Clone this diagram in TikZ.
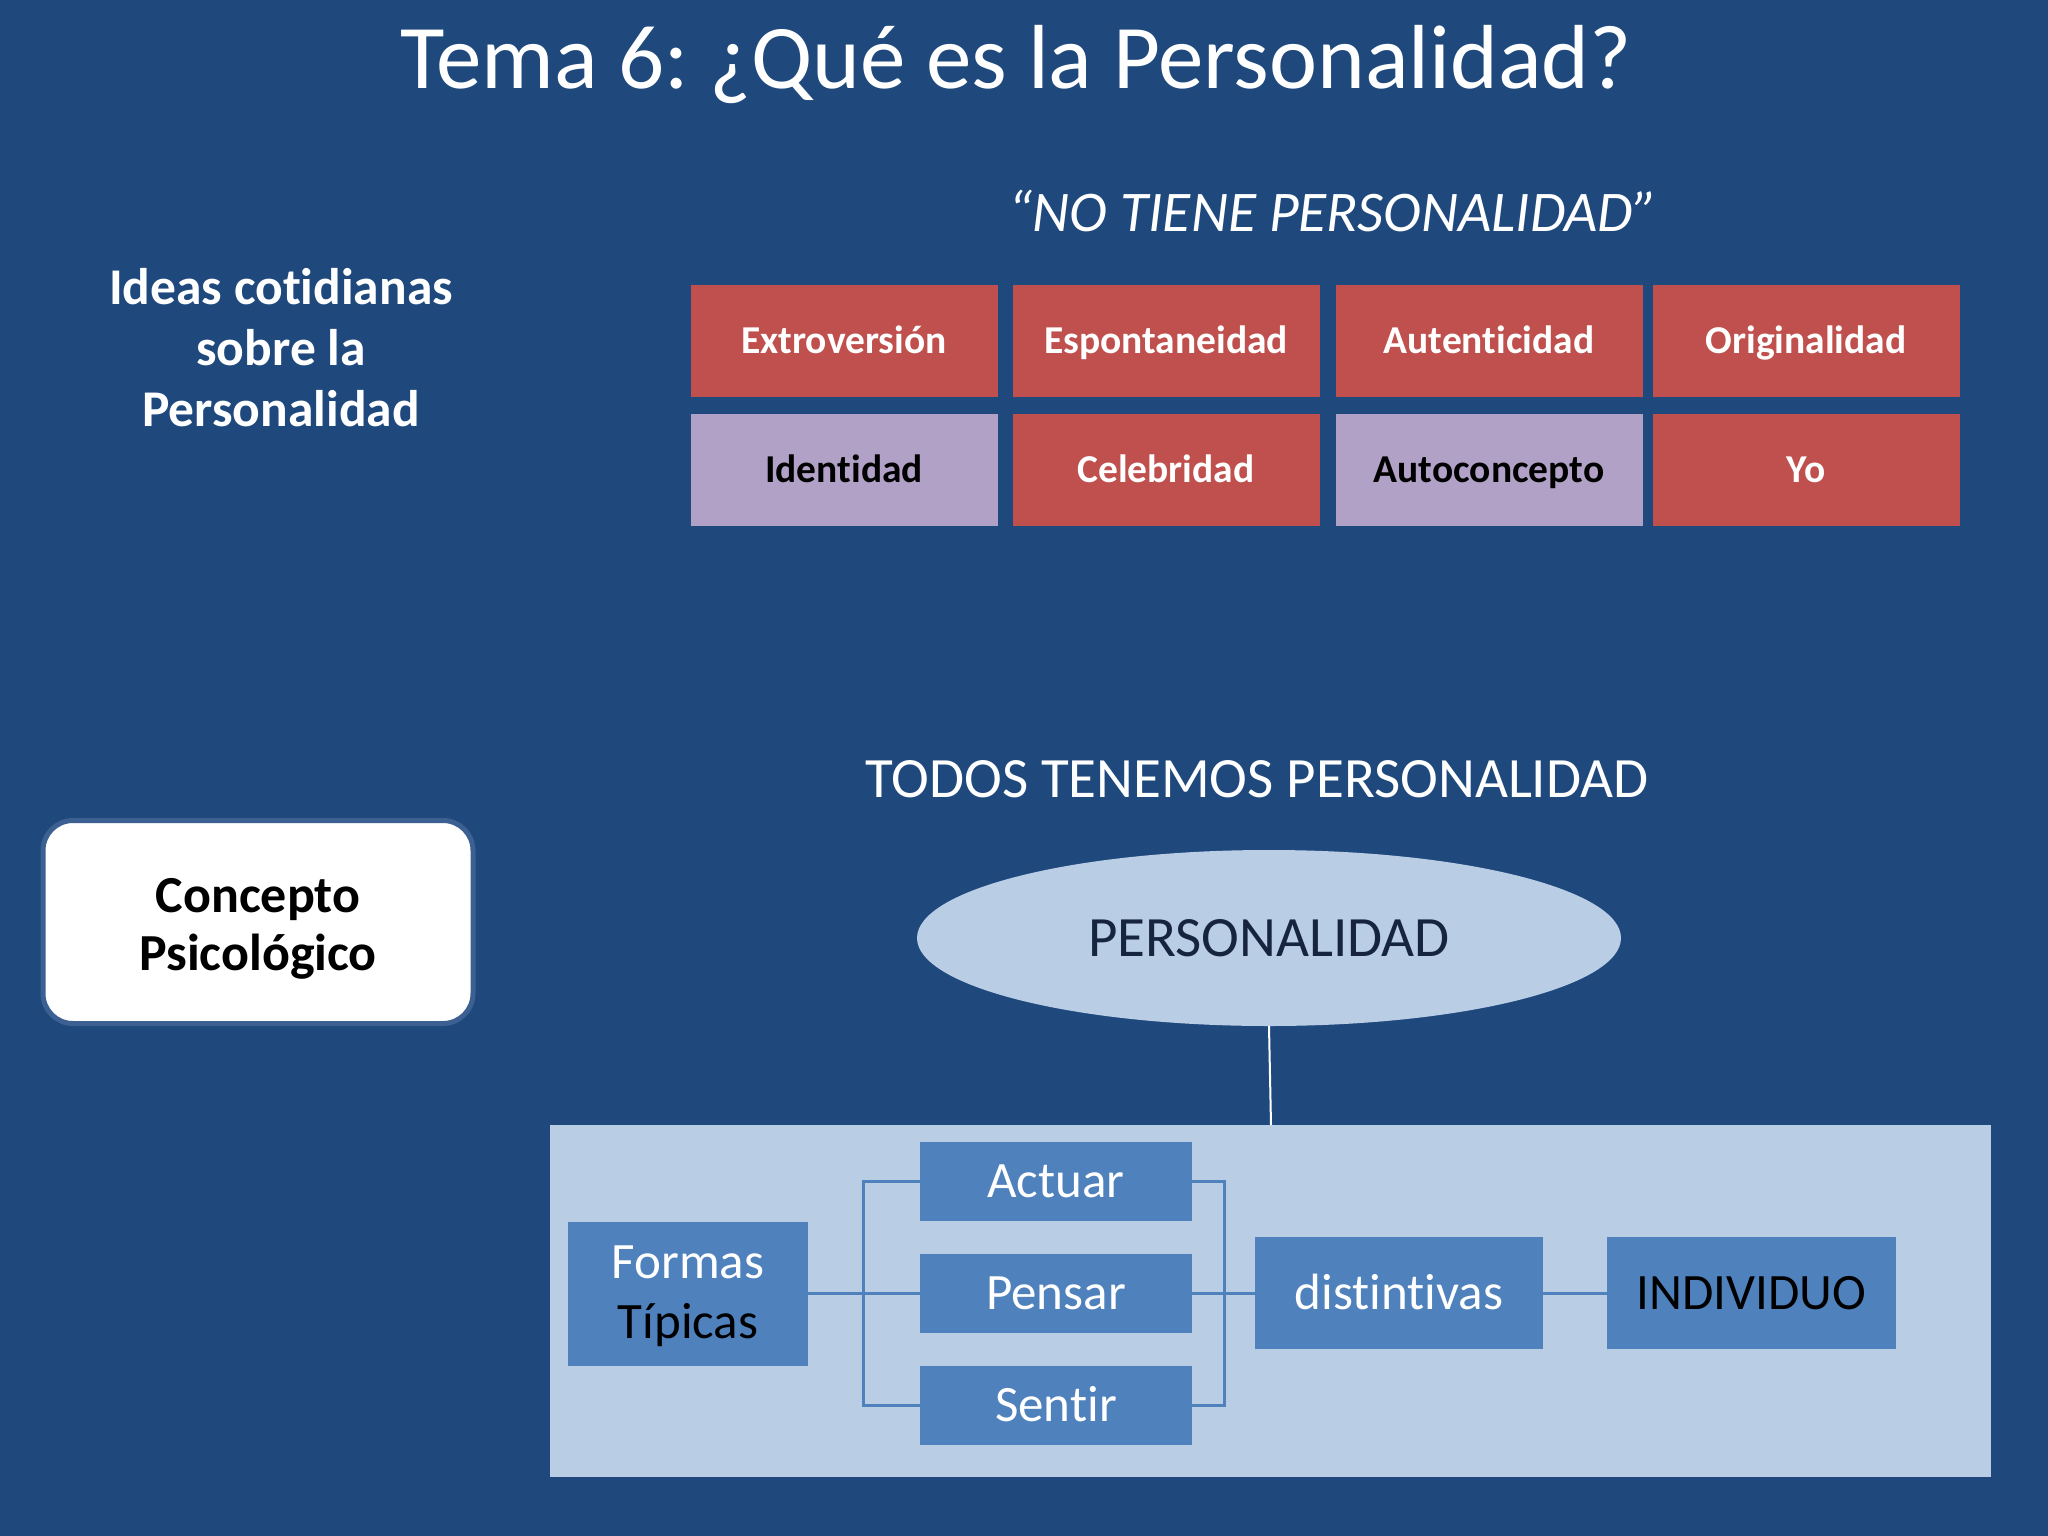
\documentclass[tikz,border=0pt]{standalone}
\usepackage{fontspec}
\setmainfont{Carlito}[RawFeature={-liga}]
\usetikzlibrary{shapes.geometric}
\frenchspacing
\definecolor{bg}{HTML}{1F497D}
\definecolor{red1}{HTML}{C0504D}
\definecolor{lav}{HTML}{B2A1C7}
\definecolor{lblue}{HTML}{B9CDE5}
\definecolor{mblue}{HTML}{4F81BD}
\definecolor{navy}{HTML}{17243F}
\definecolor{rim}{HTML}{3B6091}
\tikzset{
  gbox/.style={rectangle, minimum width=307pt, minimum height=112pt, inner sep=0pt,
     font=\fontsize{39.5}{46}\selectfont\bfseries, text height=25pt, text depth=0pt},
  redbox/.style={gbox, fill=red1, text=white},
  lavbox/.style={gbox, fill=lav, text=black},
  bbox/.style={rectangle, fill=mblue, inner sep=0pt, text=white,
     font=\fontsize{51}{60}\selectfont, text height=32pt, text depth=0pt},
  conn/.style={draw=mblue, line width=3pt},
}
\begin{document}
\frenchspacing
\begin{tikzpicture}[x=1pt,y=-1pt]
\useasboundingbox (0,0) rectangle (2048,1536);
\fill[bg] (0,0) rectangle (2048,1536);

% title
\node[anchor=base, text=white, font=\fontsize{91}{100}\selectfont, inner sep=0pt] (title) at (1016,89) {Tema 6: ¿Qué es la Personalidad?};

\node[anchor=base, text=white, font=\fontsize{57.5}{62}\selectfont\itshape, inner sep=0pt] (notiene) at (1333,231) {“NO TIENE PERSONALIDAD”};

\node[align=center, text=white, font=\fontsize{51.5}{61}\selectfont\bfseries, inner sep=0pt] (ideas) at (281,348) {Ideas cotidianas\\sobre la\\Personalidad};

% grid
\node[redbox] (extro) at (844,341) {Extroversión};
\node[redbox] (espon) at (1166,341) {Espontaneidad};
\node[redbox] (auten) at (1489,341) {Autenticidad};
\node[redbox] (origi) at (1806,341) {Originalidad};
\node[lavbox] (ident) at (844,470) {Identidad};
\node[redbox] (celeb) at (1166,470) {Celebridad};
\node[lavbox] (autoc) at (1489,470) {Autoconcepto};
\node[redbox] (yo) at (1806,470) {Yo};

% concepto
\node[rectangle, rounded corners=30pt, fill=white, draw=rim, line width=5pt, minimum width=430pt, minimum height=203pt] (concbox) at (258,922) {};
\node[align=center, text=black, font=\fontsize{52}{58}\selectfont\bfseries, inner sep=0pt] (conc) at (258,929) {Concepto\\Psicológico};

% todos
\node[anchor=base, text=white, font=\fontsize{57}{64}\selectfont, inner sep=0pt] (todos) at (1257,797) {TODOS TENEMOS PERSONALIDAD};

% ellipse
\node[ellipse, fill=lblue, minimum width=704pt, minimum height=176pt, inner sep=0pt, text=navy, font=\fontsize{57}{64}\selectfont, text height=36pt, text depth=0pt] (pers) at (1269,938) {PERSONALIDAD};

% big box
\node[rectangle, fill=lblue, minimum width=1441pt, minimum height=352pt, inner sep=0pt] (big) at (1270.5,1301) {};
\coordinate (btop) at (1271,1125);
\draw[white, line width=2pt] (pers.south) -- (btop);

% inner boxes
\node[bbox, minimum width=240pt, minimum height=144pt] (formas) at (688,1294) {};
\node[align=center, font=\fontsize{51}{60}\selectfont, inner sep=0pt] (formastxt) at (688,1296) {\textcolor{white}{Formas}\\Típicas};
\node[bbox, minimum width=272pt, minimum height=79pt] (actuar) at (1056,1181) {Actuar};
\node[bbox, minimum width=272pt, minimum height=79pt] (pensar) at (1056,1293) {Pensar};
\node[bbox, minimum width=272pt, minimum height=79pt] (sentir) at (1056,1405) {Sentir};
\node[bbox, minimum width=288pt, minimum height=112pt] (dist) at (1399,1293) {distintivas};
\node[bbox, minimum width=289pt, minimum height=112pt, text=black] (indiv) at (1751.5,1293) {INDIVIDUO};

% connectors
\draw[conn] (formas.east |- pensar.west) -- (pensar.west);
\draw[conn] (actuar.west) -- ++(-56,0) |- (sentir.west);
\draw[conn] (actuar.east) -- ++(32,0) |- (sentir.east);
\draw[conn] (pensar.east) -- (dist.west);
\draw[conn] (dist.east) -- (indiv.west);
\end{tikzpicture}
\end{document}
